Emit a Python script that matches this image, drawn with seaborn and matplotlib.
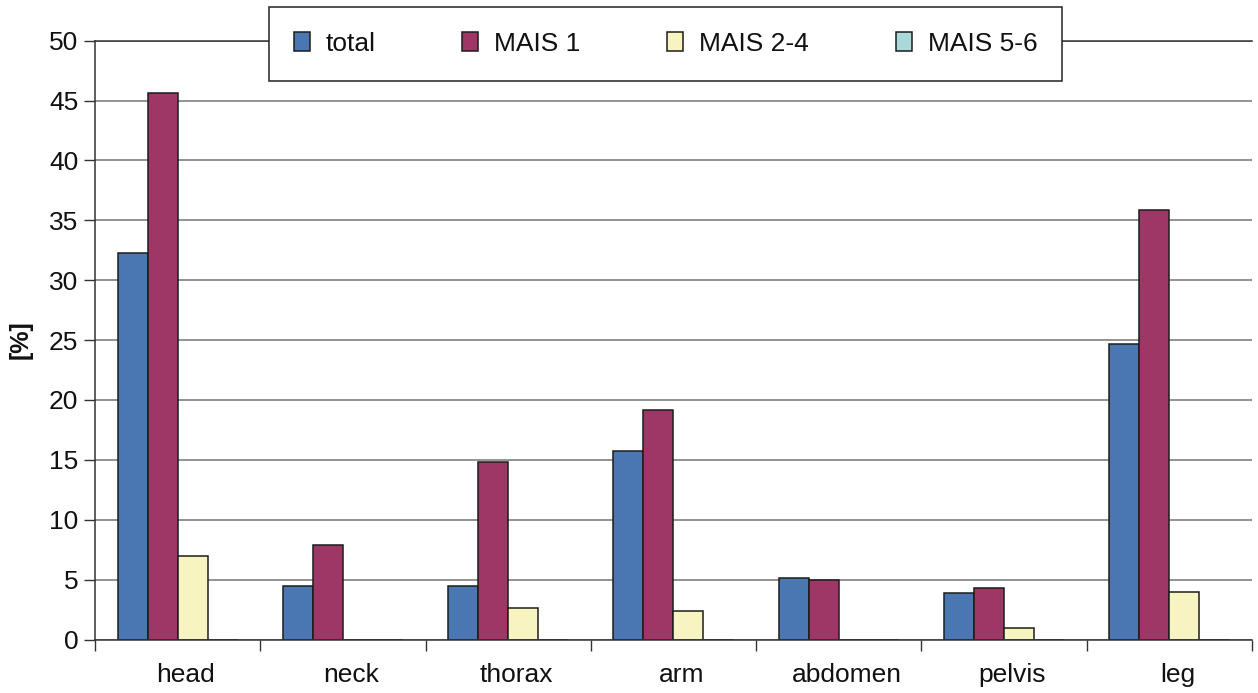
import matplotlib
matplotlib.use("Agg")
import matplotlib.pyplot as plt
import matplotlib.patches as mpatches
import matplotlib.transforms as mtransforms
import numpy as np
import pandas as pd
import seaborn as sns

# Injury share per body region, by injury severity
regions = ["head", "neck", "thorax", "arm", "abdomen", "pelvis", "leg"]
series = ["total", "MAIS 1", "MAIS 2-4", "MAIS 5-6"]
total = [32.3, 4.5, 4.5, 15.7, 5.1, 3.9, 24.7]
mais1 = [45.6, 7.9, 14.8, 19.2, 5.0, 4.3, 35.9]
mais24 = [7.0, 0.0, 2.6, 2.4, 0.0, 1.0, 4.0]
mais56 = [0.0, 0.0, 0.0, 0.0, 0.0, 0.0, 0.0]
y_ticks = [0, 5, 10, 15, 20, 25, 30, 35, 40, 45, 50]

colors = ["#4a76b1", "#9e3766", "#f7f4c2", "#a9d9d8"]

df = pd.DataFrame({
    "region": regions * 4,
    "series": sum([[s] * len(regions) for s in series], []),
    "value": total + mais1 + mais24 + mais56,
})

sns.set_theme(style="white")
plt.rcParams["font.family"] = ["Liberation Sans", "DejaVu Sans"]

FS = 19

fig = plt.figure(figsize=(12.58, 6.93), dpi=100)
ax = fig.add_axes([0.0755, 0.0772, 0.9197, 0.8641])

sns.barplot(
    data=df, x="region", y="value", hue="series", order=regions,
    hue_order=series, palette=colors, width=0.726, dodge=True,
    edgecolor="#1c1c1c", linewidth=1.1, saturation=1, legend=False,
    errorbar=None, ax=ax,
)

ax.set_ylim(0, 50)
ax.set_xlim(-0.5, len(regions) - 0.5)
ax.set_yticks(y_ticks)
ax.set_yticklabels([str(t) for t in y_ticks])
ax.yaxis.grid(True, color="#8a8a8a", linewidth=1.3)
ax.set_axisbelow(True)

ax.spines["right"].set_visible(False)
for side in ["left", "bottom", "top"]:
    ax.spines[side].set_visible(True)
    ax.spines[side].set_color("#333333")
    ax.spines[side].set_linewidth(1.1)

# group separators below the axis
ax.set_xticks(np.arange(-0.5, len(regions) + 0.5, 1.0), minor=True)
ax.tick_params(axis="x", which="minor", length=8, width=1, color="#333333",
               direction="out", bottom=True)
ax.tick_params(axis="x", which="major", length=0, pad=17, labelsize=FS,
               labelcolor="#111111")
ax.tick_params(axis="y", which="major", length=8, width=1, color="#333333",
               direction="out", left=True, pad=4, labelsize=FS,
               labelcolor="#111111")

# category names sit slightly right of the group centres
shift = mtransforms.ScaledTranslation(8 / 100, 0, fig.dpi_scale_trans)
for lbl in ax.get_xticklabels():
    lbl.set_transform(lbl.get_transform() + shift)

ax.set_xlabel("")
ax.set_ylabel("[%]", fontsize=18, fontweight="bold", color="#111111",
              labelpad=12)

handles = [mpatches.Patch(facecolor=c, edgecolor="#1c1c1c", linewidth=1.1,
                          label=s) for c, s in zip(colors, series)]
leg = fig.legend(
    handles=handles, loc="center", bbox_to_anchor=(0.529, 0.937), ncol=4,
    fontsize=FS, frameon=True, fancybox=False, framealpha=1,
    edgecolor="#222222", handlelength=0.6, handleheight=0.7,
    handletextpad=0.6, columnspacing=3.3, borderpad=0.95,
)
leg.get_frame().set_linewidth(1.1)
for t in leg.get_texts():
    t.set_color("#111111")

fig.savefig("out.png", dpi=100)
